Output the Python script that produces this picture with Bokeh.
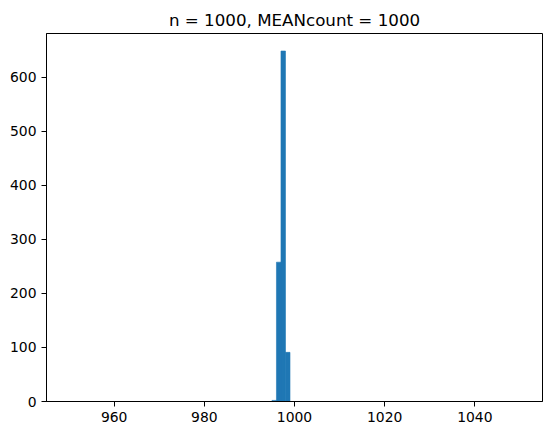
from bokeh.plotting import figure
from bokeh.models import Range1d, FixedTicker
from bokeh.embed import file_html
from bokeh.resources import INLINE

# Histogram data (bin width 1, range 950-1050, only non-empty bins listed)
bin_left = [995, 996, 997, 998]
bin_right = [996, 997, 998, 999]
counts = [2, 258, 649, 91]
hist_range = (950, 1050)
x_ticks = [960, 980, 1000, 1020, 1040]
y_ticks = [0, 100, 200, 300, 400, 500, 600]
title_text = "n = 1000, MEANcount = 1000"

span = hist_range[1] - hist_range[0]
x_range = Range1d(hist_range[0] - 0.05 * span, hist_range[1] + 0.05 * span)
y_range = Range1d(0, max(counts) * 1.05)

p = figure(width=552, height=435, x_range=x_range, y_range=y_range,
           output_backend="svg", toolbar_location=None,
           min_border_left=46, min_border_right=10,
           min_border_top=33, min_border_bottom=34)

p.quad(left=bin_left, right=bin_right, top=counts, bottom=0,
       fill_color="#1f77b4", line_color="#1f77b4", line_width=0.6)

p.title.text = title_text
p.title.align = "center"
p.title.text_font = "DejaVu Sans"
p.title.text_font_size = "16.7px"
p.title.text_font_style = "normal"
p.title.text_color = "black"
p.title.standoff = 8

p.xgrid.visible = False
p.ygrid.visible = False
p.outline_line_color = "black"
p.outline_line_alpha = 1.0
p.outline_line_width = 1

for ax, ticks in ((p.xaxis[0], x_ticks), (p.yaxis[0], y_ticks)):
    ax.ticker = FixedTicker(ticks=ticks)
    ax.minor_tick_line_color = None
    ax.major_tick_in = 0
    ax.major_tick_out = 5
    ax.major_tick_line_color = "black"
    ax.axis_line_color = "black"
    ax.major_label_text_font = "DejaVu Sans"
    ax.major_label_text_font_size = "13.9px"
    ax.major_label_text_color = "black"
    ax.major_label_standoff = 5

open("out.html", "w").write(file_html(p, INLINE))
